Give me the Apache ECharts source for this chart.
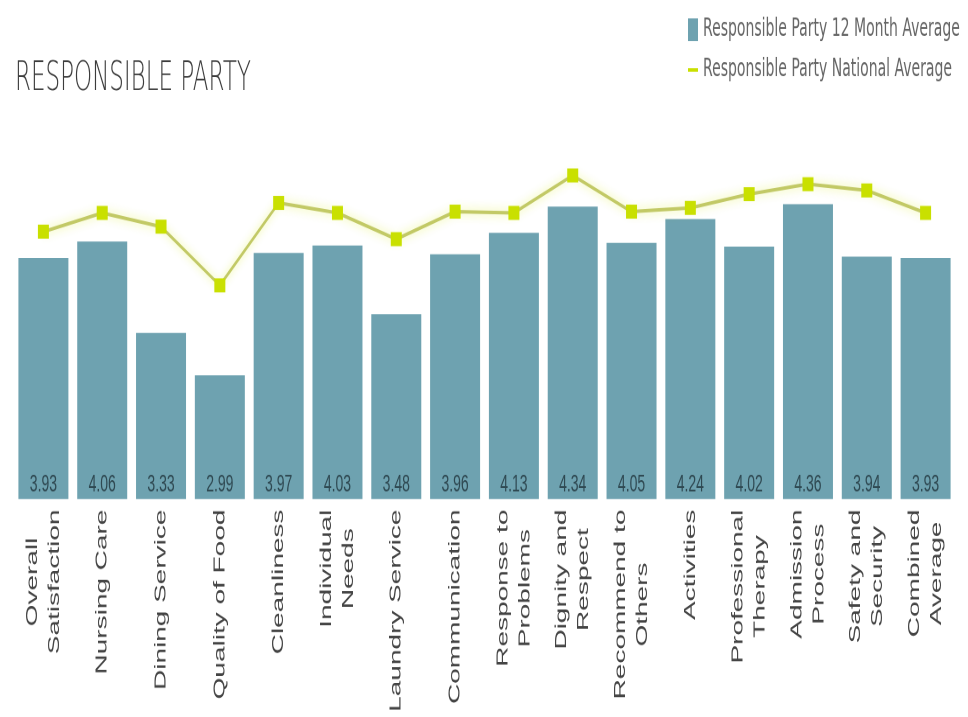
<!DOCTYPE html>
<html>
<head>
<meta charset="utf-8">
<title>Responsible Party</title>
<script src="https://cdn.jsdelivr.net/npm/echarts@6/dist/echarts.min.js"></script>
<style>
  html, body { margin: 0; padding: 0; background: #ffffff; width: 968px; height: 717px; }
  #frame { position: relative; width: 968px; height: 717px; overflow: visible; }
  /* the chart is laid out at a compressed height and stretched vertically */
  #chart { position: absolute; left: 0; top: 0; width: 968px; height: 410px; transform: scaleY(1.74878); transform-origin: 0 0; }
</style>
</head>
<body>
<div id="frame"><div id="chart"></div></div>
<script>
// Survey categories (line breaks split the rotated axis labels)
const categories = [
  'Overall\nSatisfaction', 'Nursing Care', 'Dining Service', 'Quality of Food',
  'Cleanliness', 'Individual\nNeeds', 'Laundry Service', 'Communication',
  'Response to\nProblems', 'Dignity and\nRespect', 'Recommend to\nOthers', 'Activities',
  'Professional\nTherapy', 'Admission\nProcess', 'Safety and\nSecurity', 'Combined\nAverage'
];

// Responsible Party 12 month average scores
const monthAverage = [3.93, 4.06, 3.33, 2.99, 3.97, 4.03, 3.48, 3.96, 4.13, 4.34, 4.05, 4.24, 4.02, 4.36, 3.94, 3.93];

// Responsible Party national average scores
const nationalAverage = [4.14, 4.29, 4.18, 3.71, 4.37, 4.29, 4.08, 4.30, 4.29, 4.59, 4.30, 4.33, 4.44, 4.52, 4.47, 4.29];

const seriesNames = ['Responsible Party 12 Month Average', 'Responsible Party National Average'];

const BAR_COLOR = '#6ea2b0';
const LINE_COLOR = '#c2c966';
const MARKER_COLOR = '#c9e000';

const chart = echarts.init(document.getElementById('chart'), null, { devicePixelRatio: 2 });

chart.setOption({
  animation: false,
  backgroundColor: '#ffffff',
  title: {
    text: 'RESPONSIBLE PARTY',
    left: 10,
    top: 29,
    textStyle: {
      fontFamily: 'DejaVu Sans, sans-serif',
      fontSize: 23,
      fontWeight: 300,
      color: '#3c3c3c'
    }
  },
  legend: {
    orient: 'vertical',
    left: 683,
    top: 5,
    itemWidth: 10,
    itemHeight: 13,
    itemGap: 9,
    textStyle: {
      fontFamily: 'DejaVu Sans, sans-serif',
      fontSize: 14,
      color: '#666666'
    },
    data: [
      { name: seriesNames[0], icon: 'rect' },
      { name: seriesNames[1], icon: 'path://M0,0 L10,0 L10,2 L0,2 Z' }
    ]
  },
  grid: { left: 14, right: 13, top: 71, bottom: 117 },
  xAxis: {
    type: 'category',
    data: categories,
    axisLine: { show: false },
    axisTick: { show: false },
    axisLabel: {
      interval: 0,
      rotate: 90,
      margin: 6,
      color: '#444444',
      fontFamily: 'Liberation Sans, Arial, sans-serif',
      fontSize: 16,
      formatter: function (value) {
        return value.split('\n').map(function (line) { return '{c|' + line + '}'; }).join('\n');
      },
      rich: {
        c: {
          align: 'center',
          fontFamily: 'Liberation Sans, Arial, sans-serif',
          fontSize: 16,
          lineHeight: 22,
          color: '#444444'
        }
      }
    }
  },
  yAxis: {
    type: 'value',
    min: 2,
    max: 5,
    show: false,
    splitLine: { show: false }
  },
  series: [
    {
      name: seriesNames[0],
      type: 'bar',
      data: monthAverage,
      barCategoryGap: '15%',
      itemStyle: { color: BAR_COLOR },
      label: {
        show: true,
        position: 'insideBottom',
        distance: 1,
        fontFamily: 'Liberation Sans Narrow, Liberation Sans, Arial, sans-serif',
        fontSize: 14,
        color: '#2f4952',
        formatter: function (p) { return p.value.toFixed(2); }
      },
      z: 2
    },
    {
      name: seriesNames[1],
      type: 'line',
      data: nationalAverage,
      symbol: 'rect',
      symbolSize: [11, 8],
      itemStyle: { color: MARKER_COLOR },
      lineStyle: {
        color: LINE_COLOR,
        width: 2,
        shadowColor: 'rgba(215, 235, 0, 0.45)',
        shadowBlur: 6
      },
      z: 3
    }
  ]
});
</script>
</body>
</html>
